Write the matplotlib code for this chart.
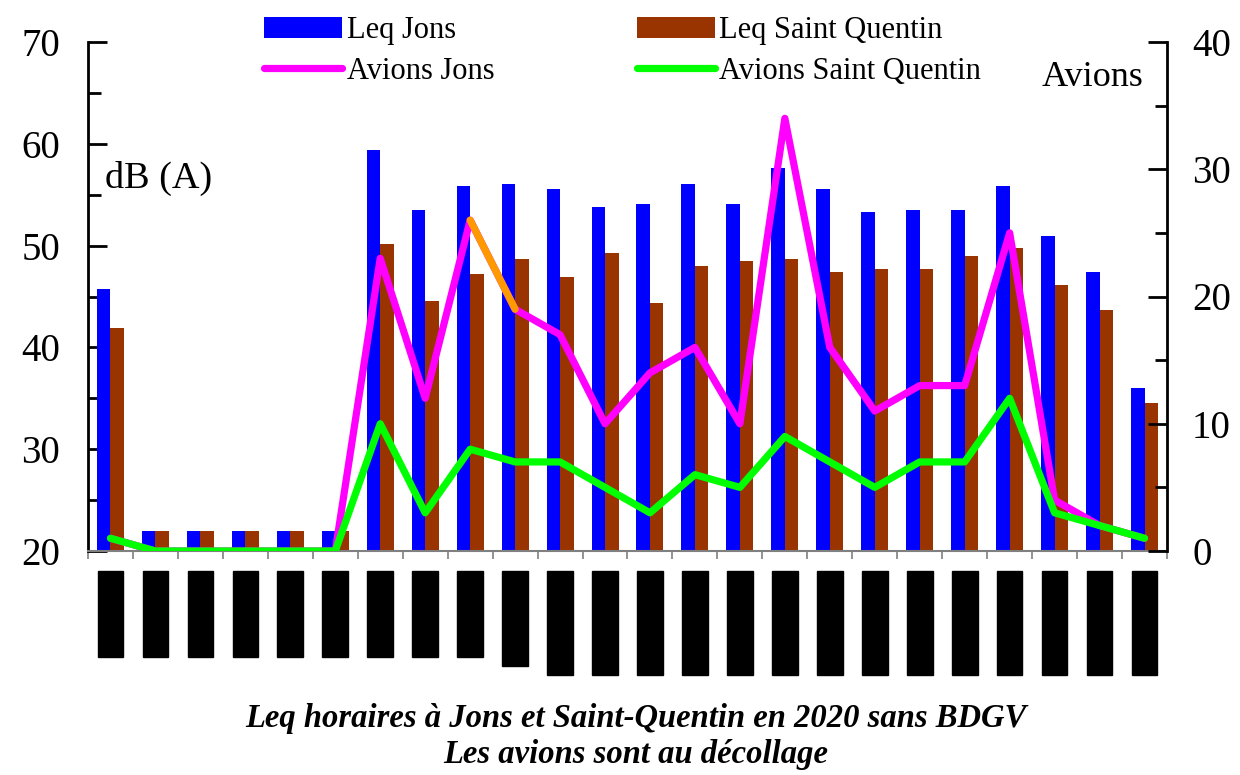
import numpy as np
import matplotlib
matplotlib.use("Agg")
import matplotlib.pyplot as plt
from matplotlib.patches import Patch
from matplotlib.lines import Line2D
from matplotlib.ticker import MultipleLocator
import matplotlib.transforms as mtransforms

plt.rcParams['font.family'] = ['Liberation Serif', 'DejaVu Serif']

# Hourly data (0h .. 23h)
hours = [f"{h}h00-{h + 1}h00" for h in range(24)]
leq_jons = [45.7, 22, 22, 22, 22, 22, 59.4, 53.5, 55.9, 56.1, 55.6, 53.8,
            54.1, 56.1, 54.1, 57.6, 55.6, 53.3, 53.5, 53.5, 55.9, 50.9, 47.4, 36.0]
leq_saint_quentin = [41.9, 22, 22, 22, 22, 22, 50.2, 44.6, 47.2, 48.7, 46.9, 49.3,
                     44.4, 48.0, 48.5, 48.7, 47.4, 47.7, 47.7, 49.0, 49.8, 46.1, 43.7, 34.5]
avions_jons = [1, 0, 0, 0, 0, 0, 23, 12, 26, 19, 17, 10,
               14, 16, 10, 34, 16, 11, 13, 13, 25, 4, 2, 1]
avions_saint_quentin = [1, 0, 0, 0, 0, 0, 10, 3, 8, 7, 7, 5,
                        3, 6, 5, 9, 7, 5, 7, 7, 12, 3, 2, 1]

BLUE = '#0000FF'
BROWN = '#993300'
MAGENTA = '#FF00FF'
GREEN = '#00FF00'
ORANGE = '#FF9900'

fig = plt.figure(figsize=(12.4, 7.75), dpi=100)
ax = fig.add_axes([88 / 1240, 1 - 551 / 775, (1167 - 88) / 1240, (551 - 42) / 775])

x = np.arange(len(hours))
w = 0.3
ax.bar(x - w / 2, leq_jons, width=w, color=BLUE, zorder=2)
ax.bar(x + w / 2, leq_saint_quentin, width=w, color=BROWN, zorder=2)

ax.set_xlim(-0.5, len(hours) - 0.5)
ax.set_ylim(20, 70)
ax.yaxis.set_major_locator(MultipleLocator(10))
ax.yaxis.set_minor_locator(MultipleLocator(5))
ax.tick_params(axis='y', which='major', direction='in', length=14, width=2,
               labelsize=28, pad=20, color='black')
ax.tick_params(axis='y', which='minor', direction='in', length=9, width=2, color='black')
ax.set_xticks(np.arange(-0.5, len(hours), 1))
ax.set_xticklabels([])
ax.tick_params(axis='x', which='major', direction='out', length=6, width=1.2, color='#808080')

for side in ['top', 'right']:
    ax.spines[side].set_visible(False)
ax.spines['left'].set_linewidth(2)
ax.spines['bottom'].set_linewidth(1.5)
ax.spines['bottom'].set_color('#808080')

# Hour labels under each group, rotated and boxed
trans = mtransforms.blended_transform_factory(ax.transData, ax.transAxes)
for xi, lab in zip(x, hours):
    ax.text(xi, -0.05, lab, transform=trans, rotation=90, ha='center', va='top',
            fontsize=10, family='DejaVu Sans', color='black',
            bbox=dict(boxstyle='square,pad=0.42', facecolor='black', edgecolor='black'))

# Aircraft counts on the right axis
ax2 = ax.twinx()
ax2.set_ylim(0, 40)
ax2.set_xlim(-0.5, len(hours) - 0.5)
ax2.yaxis.set_major_locator(MultipleLocator(10))
ax2.yaxis.set_minor_locator(MultipleLocator(5))
ax2.tick_params(axis='y', which='major', direction='in', length=14, width=2,
                labelsize=28, pad=18, color='black')
ax2.tick_params(axis='y', which='minor', direction='in', length=9, width=2, color='black')
for side in ['top', 'left', 'bottom']:
    ax2.spines[side].set_visible(False)
ax2.spines['right'].set_linewidth(2)

lw = 5.2
ax2.plot(x, avions_jons, color=MAGENTA, lw=lw, solid_joinstyle='round',
         solid_capstyle='round', zorder=3)
ax2.plot(x[8:10], avions_jons[8:10], color=ORANGE, lw=lw, solid_joinstyle='round',
         solid_capstyle='round', zorder=4)
ax2.plot(x, avions_saint_quentin, color=GREEN, lw=lw, solid_joinstyle='round',
         solid_capstyle='round', zorder=5)

fig.text(105 / 1240, 1 - 178 / 775, 'dB (A)', fontsize=27.5, va='center', ha='left')
fig.text(1143 / 1240, 1 - 78 / 775, 'Avions', fontsize=26, va='center', ha='right')

handles = [
    Patch(facecolor=BLUE, edgecolor='none', label='Leq Jons'),
    Line2D([0], [0], color=MAGENTA, lw=lw, solid_capstyle='round', label='Avions Jons'),
    Patch(facecolor=BROWN, edgecolor='none', label='Leq Saint Quentin'),
    Line2D([0], [0], color=GREEN, lw=lw, solid_capstyle='round', label='Avions Saint Quentin'),
]
fig.legend(handles=handles, ncol=2, frameon=False, fontsize=22,
           loc='upper left', bbox_to_anchor=(243 / 1240, 1.007),
           handlelength=2.55, handleheight=0.7, handletextpad=0.15,
           columnspacing=4.65, labelspacing=0.38, borderpad=0.2)

fig.text(0.513, 1 - 718 / 775, 'Leq horaires à Jons et Saint-Quentin en 2020 sans BDGV',
         fontsize=23.5, fontweight='bold', fontstyle='italic', ha='center', va='center')
fig.text(0.513, 1 - 755 / 775, 'Les avions sont au décollage',
         fontsize=23.5, fontweight='bold', fontstyle='italic', ha='center', va='center')

fig.savefig('out.png', dpi=100)
